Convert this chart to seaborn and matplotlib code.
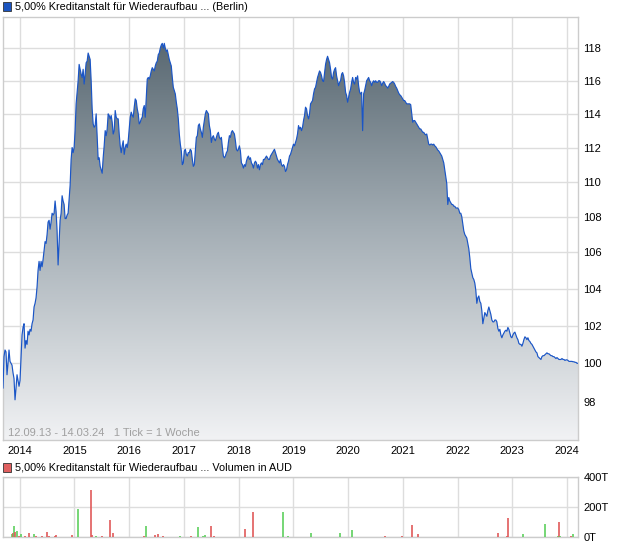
import numpy as np
import pandas as pd
import matplotlib
matplotlib.use("Agg")
import matplotlib.pyplot as plt
import seaborn as sns
from matplotlib.colors import LinearSegmentedColormap
from matplotlib.patches import Rectangle
from matplotlib.ticker import FixedLocator, NullLocator, FixedFormatter

sns.set_theme(style="white")
plt.rcParams['font.family'] = ['Liberation Sans', 'DejaVu Sans']

# ---------------- data ----------------
title_main = "5,00% Kreditanstalt für Wiederaufbau ... (Berlin)"
title_vol = "5,00% Kreditanstalt für Wiederaufbau ... Volumen in AUD"
range_note = "12.09.13 - 14.03.24   1 Tick = 1 Woche"
start_date = "2013-09-12"
end_date = "2024-03-14"

price_values = [
    98.7, 100.35, 100.7, 100.6, 99.4, 100.0, 100.7, 100.1, 100.0, 99.9,
    99.5, 99.2, 98.1, 98.7, 99.4, 99.1, 98.8, 99.1, 100.35, 101.5,
    101.9, 102.1, 100.8, 101.2, 101.0, 101.7, 101.5, 101.8, 101.7, 102.1,
    102.3, 103.0, 103.2, 103.5, 104.1, 105.0, 105.5, 105.0, 105.5, 105.2,
    105.6, 106.1, 106.6, 106.5, 107.0, 107.7, 107.8, 107.3, 107.7, 108.2,
    108.1, 108.2, 108.9, 108.3, 107.2, 105.3, 106.5, 107.8, 108.2, 109.2,
    108.9, 108.7, 107.9, 107.9, 108.1, 108.2, 109.0, 109.8, 111.3, 112.0,
    111.7, 112.0, 113.0, 114.6, 115.3, 116.0, 117.0, 116.7, 116.4, 116.2,
    116.7, 115.8, 116.4, 117.1, 117.2, 117.7, 117.5, 117.3, 116.0, 114.3,
    113.4, 113.2, 113.3, 114.0, 112.7, 111.3, 111.4, 110.9, 110.7, 110.5,
    111.4, 112.1, 113.0, 112.7, 113.1, 114.0, 113.9, 113.7, 113.9, 113.5,
    112.8, 113.0, 114.2, 113.8, 113.7, 113.7, 112.8, 112.1, 111.7, 112.1,
    112.4, 111.6, 112.0, 112.2, 112.0, 112.4, 113.1, 113.8, 114.1, 113.9,
    113.8, 114.4, 114.9, 114.8, 114.3, 114.0, 113.4, 113.5, 113.7, 113.8,
    114.3, 114.5, 113.8, 115.0, 116.1, 116.2, 116.1, 116.3, 116.6, 116.8,
    116.7, 116.6, 116.9, 117.1, 117.2, 117.6, 117.7, 118.0, 118.2, 118.3,
    118.0, 118.3, 118.0, 117.8, 117.9, 117.6, 117.3, 117.1, 116.9, 116.2,
    115.6, 115.4, 115.2, 114.7, 114.3, 113.7, 112.8, 112.2, 111.8, 111.0,
    111.1, 111.8, 111.9, 111.6, 111.5, 111.7, 111.7, 111.9, 111.8, 111.3,
    110.9, 111.0, 111.8, 112.6, 112.7, 113.3, 113.4, 113.1, 112.9, 112.6,
    113.2, 113.6, 114.0, 114.2, 114.1, 114.0, 113.3, 113.0, 112.3, 112.6,
    112.7, 112.5, 112.4, 112.6, 112.8, 112.9, 112.6, 112.5, 112.6, 112.0,
    111.5, 111.4, 111.5, 111.7, 111.8, 112.3, 112.7, 112.6, 112.9, 113.0,
    112.9, 112.8, 112.4, 111.9, 111.8, 111.9, 112.1, 111.8, 111.1, 111.0,
    110.8, 111.0, 110.9, 111.2, 111.4, 111.5, 111.3, 111.4, 111.1, 111.0,
    110.8, 111.1, 111.2, 111.1, 110.8, 111.0, 110.7, 111.0, 111.1, 111.0,
    111.3, 111.3, 111.4, 111.5, 111.4, 111.3, 111.3, 111.5, 111.6, 111.7,
    111.8, 111.9, 111.7, 111.5, 111.3, 111.2, 111.1, 111.3, 111.0, 110.9,
    111.0, 110.9, 110.6, 110.7, 111.0, 111.2, 111.5, 111.6, 111.8, 112.0,
    112.2, 112.1, 112.3, 112.5, 112.8, 113.3, 113.1, 113.2, 113.0, 113.2,
    113.6, 113.9, 114.4, 114.3, 113.9, 113.7, 114.0, 114.6, 114.7, 114.8,
    115.2, 115.5, 115.6, 115.9, 116.2, 116.4, 116.6, 116.5, 116.3, 116.0,
    115.95, 116.5, 117.0, 117.3, 117.5, 117.3, 117.1, 116.7, 116.2, 116.1,
    116.5, 116.7, 116.8, 116.3, 116.0, 115.7, 115.9, 116.0, 116.4, 116.5,
    116.3, 115.9, 115.3, 115.1, 114.7, 115.0, 115.3, 115.5, 115.9, 116.2,
    115.9, 115.8, 116.2, 116.1, 116.3, 115.7, 115.3, 115.2, 115.3, 113.0,
    115.2, 115.4, 115.7, 116.0, 116.1, 116.2, 116.0, 115.9, 115.7, 115.9,
    116.0, 115.9, 116.0, 115.9, 115.9, 116.0, 116.0, 115.9, 115.7, 115.85,
    115.95, 115.85, 115.7, 115.65, 115.55, 115.65, 115.8, 115.85, 115.9, 115.95,
    115.9, 115.8, 115.65, 115.55, 115.4, 115.25, 115.15, 115.1, 115.0, 114.9,
    114.8, 114.8, 114.7, 114.6, 114.6, 114.6, 114.6, 114.55, 114.0, 113.5,
    113.6, 113.6, 113.5, 113.4, 113.3, 113.2, 113.1, 113.1, 113.0, 112.9,
    112.9, 112.8, 112.75, 112.8, 112.5, 112.2, 112.15, 112.2, 112.2, 112.15,
    112.2, 112.1, 112.05, 111.95, 111.85, 111.8, 111.7, 111.6, 111.5, 111.3,
    111.1, 110.7, 110.3, 109.9, 108.7, 109.1, 108.9, 108.8, 108.7, 108.7,
    108.6, 108.6, 108.5, 108.5, 108.5, 108.4, 108.2, 108.2, 108.0, 107.6,
    107.2, 107.0, 106.9, 106.8, 106.5, 106.2, 105.7, 105.1, 104.85, 104.6,
    104.5, 104.3, 103.9, 103.2, 103.5, 103.6, 103.3, 103.2, 102.8, 102.1,
    102.4, 102.7, 102.6, 102.5, 102.8, 103.0, 102.8, 102.6, 102.3, 102.2,
    102.2, 102.3, 102.3, 102.2, 101.85, 101.7, 101.8, 101.5, 101.35, 101.5,
    101.6, 101.7, 101.75, 101.7, 101.9, 101.8, 101.6, 101.4, 101.35, 101.5,
    101.6, 101.65, 101.5, 101.35, 101.25, 101.05, 101.0, 101.0, 100.9, 101.05,
    101.25, 101.4, 101.35, 101.25, 101.35, 101.2, 101.15, 101.05, 101.0, 100.9,
    100.8, 100.7, 100.6, 100.55, 100.35, 100.3, 100.25, 100.2, 100.35, 100.4,
    100.4, 100.45, 100.5, 100.55, 100.5, 100.5, 100.45, 100.4, 100.4, 100.35,
    100.35, 100.3, 100.25, 100.3, 100.25, 100.2, 100.2, 100.2, 100.25, 100.2,
    100.2, 100.15, 100.18, 100.18, 100.15, 100.1, 100.1, 100.1, 100.1, 100.08,
    100.08, 100.05, 100.05, 100.0, 100.0,
]

price_ticks = [98, 100, 102, 104, 106, 108, 110, 112, 114, 116, 118]
year_ticks = [2014, 2015, 2016, 2017, 2018, 2019, 2020, 2021, 2022, 2023, 2024]

vol_dates = [
    "2013-11-08", "2013-11-15", "2013-11-24", "2013-12-01", "2013-12-15", "2013-12-26",
    "2014-01-11", "2014-02-06", "2014-03-05", "2014-04-08", "2014-04-20", "2014-05-30",
    "2014-07-04", "2014-07-17", "2014-08-26", "2014-09-02", "2014-12-17", "2015-01-26",
    "2015-04-24", "2015-05-01", "2015-05-23", "2015-07-05", "2015-08-25", "2015-09-16",
    "2016-04-08", "2016-04-23", "2016-06-24", "2016-07-12", "2016-08-14", "2016-12-05",
    "2017-02-17", "2017-04-06", "2017-05-08", "2017-05-23", "2017-07-02", "2017-07-20",
    "2018-02-14", "2018-04-09", "2018-10-27", "2018-11-29", "2019-05-01", "2019-11-10",
    "2020-01-26", "2020-09-06", "2020-12-28", "2021-03-04", "2021-04-13", "2022-09-27",
    "2022-11-24", "2022-12-02", "2023-03-15", "2023-08-08", "2023-10-31", "2023-11-10",
    "2023-11-18", "2024-01-30", "2024-02-10",
]
vol_values = [  # thousands (T)
    18, 22, 73, 29, 40, 7,
    18, 2, 27, 20, 2, 2,
    33, 4, 7, 13, 13, 189,
    313, 13, 2, 2, 113, 27,
    7, 73, 13, 20, 7, 7,
    7, 67, 4, 13, 73, 2,
    53, 167, 167, 2, 27, 27,
    47, 7, 2, 80, 20, 27,
    4, 127, 20, 87, 2, 100,
    2, 2, 20,
]
vol_direction = [
    "up", "down", "up", "down", "up", "down",
    "up", "down", "down", "up", "down", "down",
    "down", "down", "down", "down", "down", "up",
    "down", "down", "up", "down", "down", "down",
    "down", "up", "down", "down", "down", "up",
    "down", "up", "up", "up", "down", "down",
    "down", "down", "up", "up", "up", "up",
    "up", "down", "down", "down", "down", "down",
    "down", "down", "up", "up", "up", "down",
    "up", "down", "up",
]
vol_ticks = [0, 200, 400]
vol_tick_labels = ["0T", "200T", "400T"]

# ---------------- figure ----------------
W, H = 620, 546
fig = plt.figure(figsize=(W / 100, H / 100), dpi=100)
fig.patch.set_facecolor("white")


def fx(px):
    return px / W


def fy(py):
    return 1 - py / H


ax = fig.add_axes([fx(3), fy(440), fx(578) - fx(3), fy(17) - fy(440)])
axv = fig.add_axes([fx(3), fy(537), fx(578) - fx(3), fy(477) - fy(537)])

dates = pd.date_range(start_date, end_date, periods=len(price_values))
df = pd.DataFrame({"date": dates, "price": price_values})
x0, x1 = pd.Timestamp(start_date), pd.Timestamp(end_date)
ylo, yhi = 96.05, 119.95
grid_c = "#dddddd"
spine_c = "#cccccc"

ax.set_yscale("log")
# gradient area
poly = ax.fill_between(df["date"], df["price"], ylo, facecolor="none", edgecolor="none")
cmap = LinearSegmentedColormap.from_list("g", ["#f1f2f4", "#a4aeb5", "#4f5f69"])
grad = np.linspace(0, 1, 256).reshape(-1, 1)
im = ax.imshow(grad, extent=[0, 1, 0, 1], transform=ax.transAxes, aspect="auto",
               cmap=cmap, origin="lower", zorder=1, interpolation="bilinear")
im.set_clip_path(poly.get_paths()[0], transform=poly.get_transform())

sns.lineplot(data=df, x="date", y="price", ax=ax, color="#1a55c6", linewidth=0.85, zorder=3)

ax.set_xlim(x0, x1)
ax.set_ylim(ylo, yhi)
ax.set_aspect("auto")
ax.yaxis.set_major_locator(FixedLocator(price_ticks))
ax.yaxis.set_major_formatter(FixedFormatter([str(t) for t in price_ticks]))
ax.yaxis.set_minor_locator(NullLocator())
ax.yaxis.tick_right()
year_dates = [pd.Timestamp(f"{y}-01-01") for y in year_ticks]
ax.set_xticks(year_dates)
ax.set_xticklabels([str(y) for y in year_ticks])
ax.xaxis.set_minor_locator(NullLocator())
ax.tick_params(axis="both", length=0, labelsize=8, colors="black")
ax.tick_params(axis="y", pad=4)
ax.tick_params(axis="x", pad=4)
ax.grid(True, color=grid_c, linewidth=1, zorder=0)
ax.set_axisbelow(True)
ax.set_xlabel("")
ax.set_ylabel("")
for s in ax.spines.values():
    s.set_color(spine_c)
    s.set_linewidth(1)

ax.text(5 / 575, 1.5 / 423, range_note, transform=ax.transAxes, fontsize=8,
        color="#a0a0a0", ha="left", va="bottom", zorder=4)

# volume
bar_colors = ["#5dcf5d" if d == "up" else "#e05a5a" for d in vol_direction]
axv.vlines(pd.to_datetime(vol_dates), 0, vol_values, colors=bar_colors,
           linewidth=1.2, zorder=3)
axv.set_xlim(x0, x1)
axv.set_ylim(-1.5, 400)
axv.set_xticks(year_dates)
axv.set_xticklabels([])
axv.yaxis.set_major_locator(FixedLocator(vol_ticks))
axv.yaxis.set_major_formatter(FixedFormatter(vol_tick_labels))
axv.yaxis.tick_right()
axv.tick_params(axis="both", length=0, labelsize=8, colors="black")
axv.tick_params(axis="y", pad=4)
axv.grid(True, color=grid_c, linewidth=1, zorder=0)
axv.set_axisbelow(True)
for s in axv.spines.values():
    s.set_color(spine_c)
    s.set_linewidth(1)

# titles with squares
fig.patches.append(Rectangle((fx(3), fy(11)), fx(8), 9 / H, transform=fig.transFigure,
                             facecolor="#1c55c0", edgecolor="#333333", linewidth=0.6))
fig.text(fx(15), fy(6.5), title_main, fontsize=7.85, ha="left", va="center", color="black")
fig.patches.append(Rectangle((fx(3), fy(472)), fx(8), 9 / H, transform=fig.transFigure,
                             facecolor="#e06060", edgecolor="#333333", linewidth=0.6))
fig.text(fx(15), fy(467.5), title_vol, fontsize=7.85, ha="left", va="center", color="black")

fig.savefig("out.png", dpi=100)
